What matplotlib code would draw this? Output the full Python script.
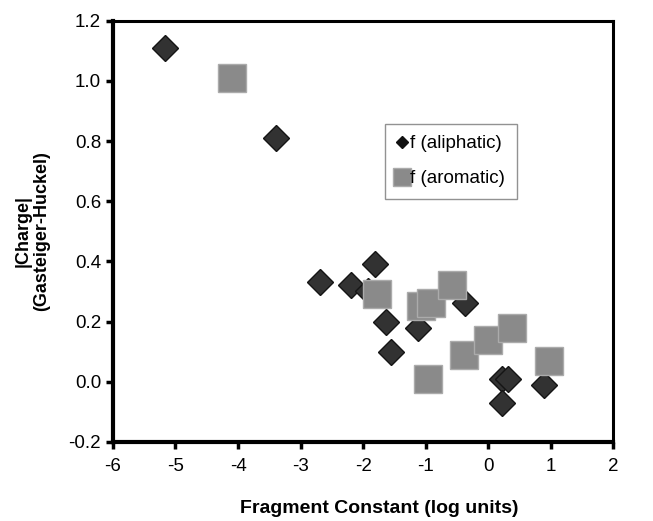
import matplotlib.pyplot as plt
from matplotlib.lines import Line2D

plt.rcParams['font.family'] = ['Liberation Sans', 'DejaVu Sans']

# f (aliphatic) fragments
aliph_x = [-5.17, -3.39, -2.69, -2.20, -1.92, -1.81, -1.64, -1.55, -1.12, -0.37, 0.23, 0.32, 0.22, 0.90]
aliph_y = [1.11, 0.81, 0.33, 0.32, 0.30, 0.39, 0.20, 0.10, 0.18, 0.26, 0.01, 0.01, -0.07, -0.01]

# f (aromatic) fragments
arom_x = [-4.09, -1.78, -1.07, -0.92, -0.57, -0.96, -0.39, 0.00, 0.38, 0.98]
arom_y = [1.01, 0.29, 0.25, 0.26, 0.32, 0.01, 0.09, 0.14, 0.18, 0.07]

x_ticks = [-6, -5, -4, -3, -2, -1, 0, 1, 2]
y_ticks = [-0.2, 0.0, 0.2, 0.4, 0.6, 0.8, 1.0, 1.2]

fig = plt.figure(figsize=(6.53, 5.21), dpi=100)
ax = fig.add_axes([0.173, 0.152, 0.766, 0.808])

ax.plot(aliph_x, aliph_y, linestyle='none', marker='D', markersize=13.5,
        markerfacecolor='#323232', markeredgecolor='#151515', markeredgewidth=1.0,
        zorder=3)
ax.plot(arom_x, arom_y, linestyle='none', marker='s', markersize=19.5,
        markerfacecolor='#8a8a8a', markeredgecolor='#ababab', markeredgewidth=1.0,
        zorder=4)

ax.set_xlim(-6, 2)
ax.set_ylim(-0.2, 1.2)
ax.set_xticks(x_ticks)
ax.set_yticks(y_ticks)
ax.set_xticklabels([str(t) for t in x_ticks])
ax.set_yticklabels(['%.1f' % t for t in y_ticks])
ax.tick_params(direction='out', length=5, width=2.5, labelsize=13.5, color='black')
ax.tick_params(axis='x', pad=7)
ax.tick_params(axis='y', pad=3.5)

for side in ['left', 'bottom']:
    ax.spines[side].set_linewidth(3.0)
for side in ['top', 'right']:
    ax.spines[side].set_linewidth(2.2)

ax.set_xlabel('Fragment Constant (log units)', fontsize=14, fontweight='bold')
ax.xaxis.set_label_coords(0.532, -0.138)
ax.set_ylabel('|Charge|\n(Gasteiger-Huckel)', fontsize=13, fontweight='bold',
              linespacing=1.12)
ax.yaxis.set_label_coords(-0.126, 0.5)

handles = [
    Line2D([], [], linestyle='none', marker='D', markersize=6,
           markerfacecolor='#111111', markeredgecolor='#111111'),
    Line2D([], [], linestyle='none', marker='s', markersize=13.5,
           markerfacecolor='#8a8a8a', markeredgecolor='#ababab'),
]
leg = ax.legend(handles, ['f (aliphatic)', 'f (aromatic)'], loc='upper left',
                bbox_to_anchor=(0.544, 0.755), borderaxespad=0, fontsize=13.5,
                frameon=True, fancybox=False, edgecolor='#777777',
                handlelength=0.6, handletextpad=0.15, borderpad=0.6,
                labelspacing=0.95)
leg.get_frame().set_linewidth(1.0)

fig.savefig('out.png', dpi=100)
